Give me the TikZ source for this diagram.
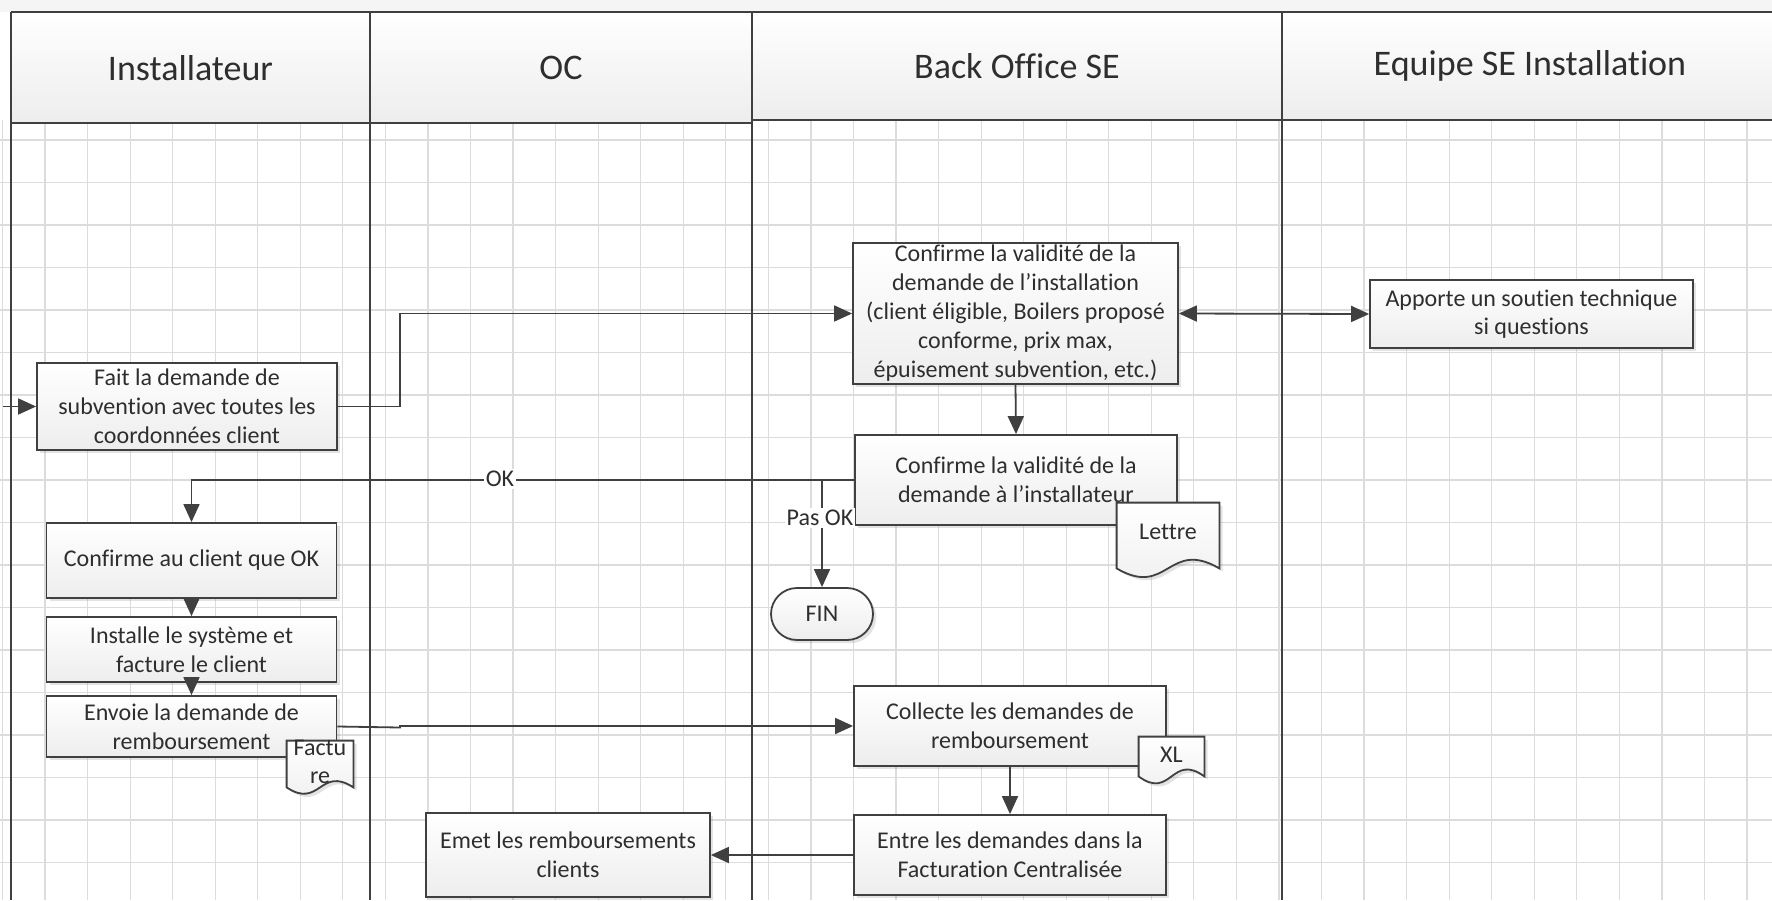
\documentclass[tikz,border=0pt]{standalone}
\usepackage{fontspec}
\setmainfont{Carlito}[Ligatures=NoCommon]
\usetikzlibrary{arrows.meta,shadows,calc}
\definecolor{ln}{HTML}{404040}
\definecolor{gridc}{HTML}{DCDCDC}
\definecolor{txt}{HTML}{2E2E2E}
\begin{document}
\begin{tikzpicture}[x=0.5pt,y=-0.5pt,
  gridline/.style={draw=gridc, line width=0.6pt},
  lane/.style={draw=ln, line width=0.9pt},
  hdr/.style={top color=white, bottom color=gray!14},
  hdrtext/.style={font=\fontsize{18}{21}\selectfont, text=txt},
  box/.style={draw=ln, line width=0.9pt, top color=white, bottom color=gray!14,
    drop shadow={shadow xshift=1.6pt, shadow yshift=-1.6pt, opacity=0.22, fill=gray},
    align=center, inner sep=0pt, text=txt, font=\fontsize{12}{14.4}\selectfont},
  docfill/.style={draw=ln, line width=0.9pt, top color=white, bottom color=gray!14,
    drop shadow={shadow xshift=1.6pt, shadow yshift=-1.6pt, opacity=0.22, fill=gray}},
  doctext/.style={align=center, inner sep=0pt, text=txt, font=\fontsize{12}{14}\selectfont},
  arr/.style={draw=ln, line width=0.9pt, -{Triangle[length=9pt,width=8pt]}},
  lbl/.style={fill=white, inner sep=1pt, text=txt, font=\fontsize{12}{14.4}\selectfont}
]
\newcommand\mydocshape[2]{%
  \path[docfill] (#1.north west) -- (#1.north east) -- (#1.south east)
    .. controls ($(#1.south)+(0pt,#2)$) and ($(#1.south)+(0pt,-#2)$) .. (#1.south west) -- cycle;}
\useasboundingbox (0,0) rectangle (1772,900);
\clip (0,0) rectangle (1772,900);
\fill[white] (0,0) rectangle (1772,900);
\fill[gray!8] (0,0) rectangle (1772,12);
% grid
\foreach \i in {0,...,41} \draw[gridline] ({2.45+42.55*\i},120) -- ({2.45+42.55*\i},900);
\foreach \j in {0,...,18} \draw[gridline] (0,{140+42.5*\j}) -- (1772,{140+42.5*\j});
% headers
\path[hdr] (11,12) rectangle (370,123);
\path[hdr] (370,12) rectangle (752,123);
\path[hdr] (752,12) rectangle (1282,120);
\path[hdr] (1282,12) rectangle (1800,120);
\draw[lane] (11,12) -- (1772,12);
\draw[lane] (11,123) -- (752,123);
\draw[lane] (752,120) -- (1772,120);
\draw[lane] (11,12) -- (11,900);
\draw[lane] (370,12) -- (370,900);
\draw[lane] (752,12) -- (752,900);
\draw[lane] (1282,12) -- (1282,900);
\node[hdrtext] (hA) at (190.5,68) {Installateur};
\node[hdrtext] (hB) at (561,68) {OC};
\node[hdrtext] (hC) at (1017,66) {Back Office SE};
\node[hdrtext] (hD) at (1530,66) {Equipe SE Installation};
% nodes
\coordinate (startin) at (3,406.5);
\node[box, minimum width=150pt, minimum height=43.5pt] (fait) at (187,406.5)
  {Fait la demande de\\subvention avec toutes les\\coordonnées client};
\node[box, minimum width=162.5pt, minimum height=70.5pt, font=\fontsize{12}{14.5}\selectfont] (valid) at (1015.5,313.5)
  {Confirme la validité de la\\demande de l’installation\\(client éligible, Boilers proposé\\conforme, prix max,\\épuisement subvention, etc.)};
\node[box, minimum width=161.5pt, minimum height=34pt] (support) at (1531.5,314)
  {Apporte un soutien technique\\si questions};
\node[box, minimum width=161pt, minimum height=45pt] (confirm) at (1016,480)
  {Confirme la validité de la\\demande à l’installateur};
\node[doctext, minimum width=51pt, minimum height=32.5pt] (lettre) at (1168,535.5) {};
\mydocshape{lettre}{15pt}
\node[doctext] (lettretext) at (1168,532) {Lettre};
\node[box, minimum width=51pt, minimum height=26pt, rounded corners=13pt] (fin) at (822,614) {FIN};
\node[box, minimum width=145pt, minimum height=37.5pt] (client) at (191.5,560.5) {Confirme au client que OK};
\node[box, minimum width=145pt, minimum height=32.5pt] (install) at (191.5,649.5)
  {Installe le système et\\facture le client};
\node[box, minimum width=145pt, minimum height=30.5pt] (envoie) at (191.5,726.5)
  {Envoie la demande de\\remboursement};
\node[doctext, minimum width=33pt, minimum height=23pt] (facture) at (320,764) {};
\mydocshape{facture}{11pt}
\node[doctext] (facturetext) at (320,762) {Factu\\re};
\node[box, minimum width=156pt, minimum height=40pt] (collecte) at (1010,726)
  {Collecte les demandes de\\remboursement};
\node[doctext, minimum width=32.5pt, minimum height=19.5pt] (xl) at (1171.5,756.5) {};
\mydocshape{xl}{12pt}
\node[doctext] (xltext) at (1171.5,755) {XL};
\node[box, minimum width=156pt, minimum height=40pt] (entre) at (1010,855)
  {Entre les demandes dans la\\Facturation Centralisée};
\node[box, minimum width=142pt, minimum height=42pt] (emet) at (568,855)
  {Emet les remboursements\\clients};
% connectors
\draw[arr] (startin) -- (fait.west);
\draw[arr] (fait.east) -- (400,406.5) |- (valid.west);
\draw[draw=ln, line width=0.9pt, {Triangle[length=9pt,width=8pt]}-{Triangle[length=9pt,width=8pt]}] (valid.east) -- (support.west);
\draw[arr] (valid.south) -- (confirm.north);
\draw[arr] (confirm.west) -| (client.north);
\node[lbl] (oklbl) at (500,479) {OK};
\draw[arr] (fin.north |- confirm.west) -- (fin.north);
\node[lbl] (paslbl) at (820,518) {Pas OK};
\draw[arr] (client.south) -- (install.north);
\draw[arr] (install.south) -- (envoie.north);
\draw[arr] (envoie.east) -- (400,727.5) |- (collecte.west);
\draw[arr] (collecte.south) -- (entre.north);
\draw[arr] (entre.west) -- (emet.east);
\end{tikzpicture}
\end{document}
